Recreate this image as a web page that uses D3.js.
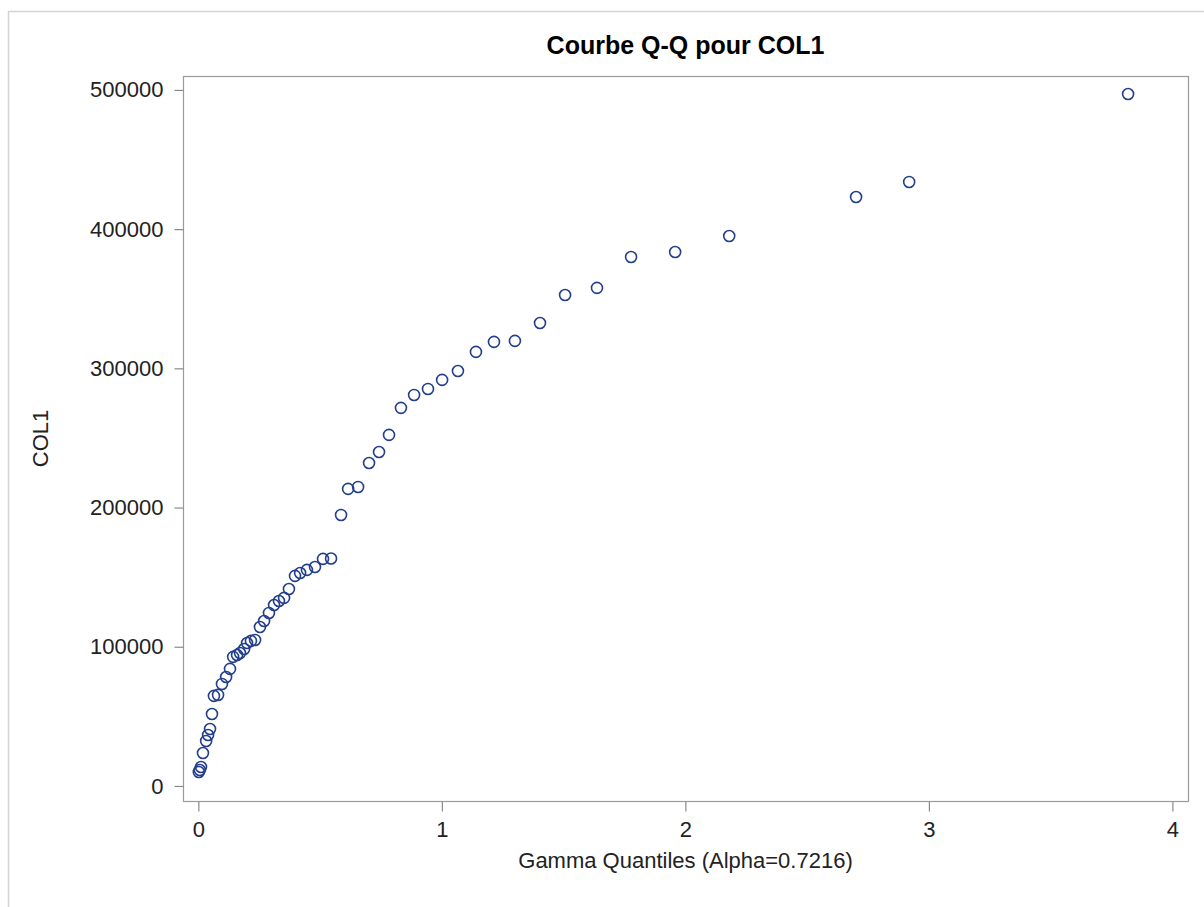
<!DOCTYPE html>
<html>
<head>
<meta charset="utf-8">
<script src="https://cdn.jsdelivr.net/npm/d3@7"></script>
<style>
  html, body { margin: 0; padding: 0; background: #ffffff; }
  svg { display: block; }
  text { font-family: "Liberation Sans", Arial, sans-serif; }
</style>
</head>
<body>
<svg id="chart" width="1204" height="907"></svg>
<script>
// ---- data ----
const title = "Courbe Q-Q pour COL1";
const xLabel = "Gamma Quantiles (Alpha=0.7216)";
const yLabel = "COL1";
const xTicks = [0, 1, 2, 3, 4];
const yTicks = [0, 100000, 200000, 300000, 400000, 500000];

const gammaQuantiles = [
  0.002, 0.006, 0.011, 0.019, 0.032, 0.040, 0.048, 0.056, 0.064, 0.081,
  0.097, 0.114, 0.130, 0.143, 0.159, 0.171, 0.188, 0.200, 0.216, 0.233,
  0.253, 0.270, 0.290, 0.311, 0.331, 0.352, 0.372, 0.397, 0.418, 0.446,
  0.479, 0.512, 0.545, 0.586, 0.615, 0.656, 0.701, 0.742, 0.783, 0.832,
  0.886, 0.943, 1.001, 1.066, 1.140, 1.214, 1.300, 1.403, 1.506, 1.637,
  1.777, 1.958, 2.180, 2.701, 2.919, 3.818
];
const col1 = [
  10000, 11500, 13600, 23700, 32300, 36600, 40900, 51700, 64700, 65400,
  73300, 78300, 84100, 92700, 94100, 95500, 98400, 102700, 104200, 104900,
  114200, 118500, 124300, 130000, 132900, 135100, 141500, 150900, 153000, 155200,
  157300, 163100, 163400, 194700, 213400, 214800, 232000, 239900, 252200, 271600,
  280900, 285200, 291700, 298100, 311800, 319000, 319700, 332600, 352700, 357800,
  380000, 383600, 395100, 423100, 433900, 497100
];

// ---- layout ----
const svg = d3.select("#chart");
const plot = { left: 183, right: 1188, top: 76, bottom: 801 };

const x = d3.scaleLinear().domain([-0.063, 4.064]).range([plot.left, plot.right]);
const y = d3.scaleLinear().domain([-10800, 510000]).range([plot.bottom, plot.top]);

// outer border (top & left visible)
svg.append("path")
  .attr("d", `M8.5,907 L8.5,11.5 L1204,11.5`)
  .attr("fill", "none").attr("stroke", "#d4d4d4").attr("stroke-width", 1.5);

// plot frame
svg.append("rect")
  .attr("x", plot.left + 0.5).attr("y", plot.top + 0.5)
  .attr("width", plot.right - plot.left).attr("height", plot.bottom - plot.top)
  .attr("fill", "#ffffff").attr("stroke", "#9a9a9a").attr("stroke-width", 1.2);

// axes
const xAxis = svg.append("g")
  .attr("transform", `translate(0,${plot.bottom + 0.5})`)
  .call(d3.axisBottom(x).tickValues(xTicks).tickFormat(d3.format("d")).tickSize(10).tickPadding(10));
const yAxis = svg.append("g")
  .attr("transform", `translate(${plot.left + 0.5},0)`)
  .call(d3.axisLeft(y).tickValues(yTicks).tickFormat(d3.format("d")).tickSize(9).tickPadding(11));

[xAxis, yAxis].forEach(g => {
  g.select(".domain").remove();
  g.selectAll(".tick line").attr("stroke", "#8a8a8a").attr("stroke-width", 1.2);
  g.selectAll(".tick text").attr("fill", "#222").style("font-size", "22px")
    .style("font-family", '"Liberation Sans", Arial, sans-serif');
});

// points
svg.append("g").selectAll("circle")
  .data(gammaQuantiles.map((q, i) => ({ q, v: col1[i] })))
  .join("circle")
  .attr("cx", d => x(d.q))
  .attr("cy", d => y(d.v))
  .attr("r", 5.5)
  .attr("fill", "none")
  .attr("stroke", "#233f8c")
  .attr("stroke-width", 1.6);

// title
svg.append("text")
  .attr("x", (plot.left + plot.right) / 2).attr("y", 54)
  .attr("text-anchor", "middle")
  .style("font-size", "25px").style("font-weight", "bold").attr("fill", "#000")
  .text(title);

// x label
svg.append("text")
  .attr("x", (plot.left + plot.right) / 2).attr("y", 868)
  .attr("text-anchor", "middle")
  .style("font-size", "22px").attr("fill", "#222")
  .text(xLabel);

// y label
svg.append("text")
  .attr("transform", `translate(48,${(plot.top + plot.bottom) / 2}) rotate(-90)`)
  .attr("text-anchor", "middle")
  .style("font-size", "22px").attr("fill", "#222")
  .text(yLabel);
</script>
</body>
</html>
